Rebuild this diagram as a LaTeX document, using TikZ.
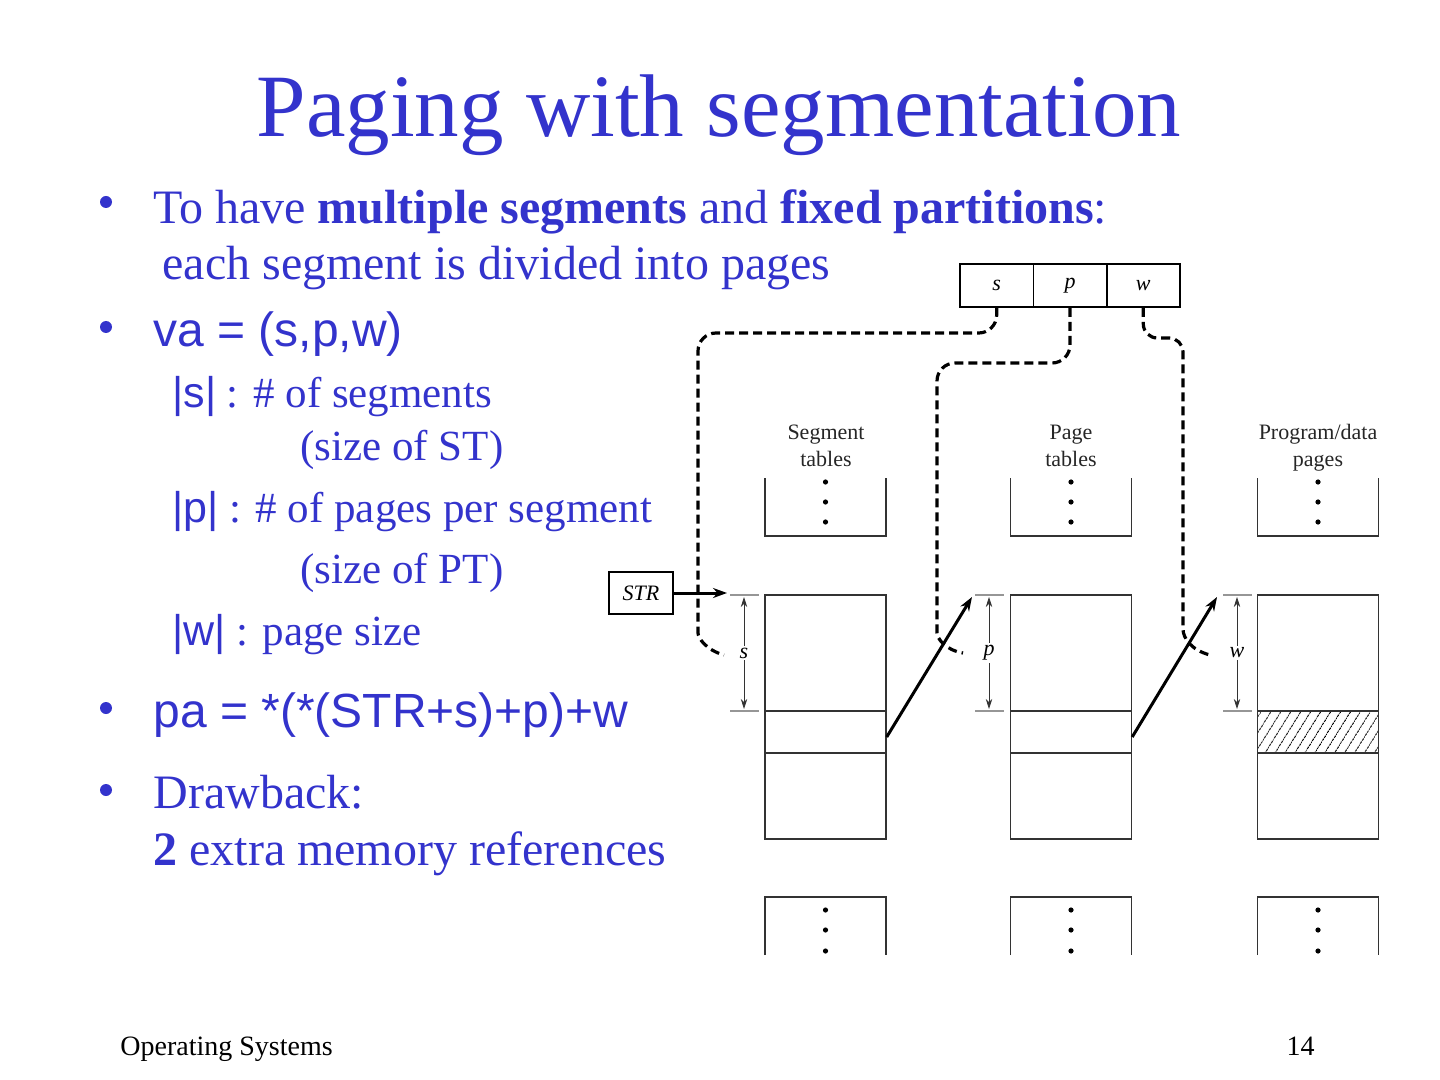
\documentclass[tikz,border=0pt]{standalone}
\usepackage{fontspec}
\setmainfont{Liberation Serif}
\setsansfont{Liberation Sans}
\usetikzlibrary{arrows.meta,positioning,patterns.meta}
\definecolor{cSlide}{RGB}{51,51,204}
\definecolor{cTick}{RGB}{150,150,150}

\begin{document}
\begin{tikzpicture}[
    x=0.5pt, y=-0.5pt, >=Stealth,
    txt/.style={anchor=base west,inner sep=0pt,text=cSlide,font=\fontsize{24}{28}\selectfont},
    subtxt/.style={txt,font=\fontsize{21.5}{25}\selectfont},
    bul/.style={circle,fill=cSlide,inner sep=0pt,minimum size=6pt},
    field/.style={draw,line width=0.8pt,minimum width=36.7pt,minimum height=21.5pt,inner sep=0pt,font=\fontsize{11}{13}\selectfont\itshape},
    blk/.style={draw=black!80,line width=0.7pt,minimum width=60.5pt,inner sep=0pt},
    hdr/.style={align=center,font=\fontsize{11}{13.5}\selectfont,text=black!85},
    addr/.style={line width=1.6pt,dash pattern=on 4.5pt off 2.5pt,rounded corners=9pt},
    tickln/.style={draw=cTick,line width=0.6pt},
    dimln/.style={draw=black!80,line width=0.4pt,{Stealth[length=5pt,width=3.2pt]}-{Stealth[length=5pt,width=3.2pt]}},
    ptr/.style={line width=1.5pt,-{Stealth[length=7pt,width=5pt]}}
  ]
  \useasboundingbox (0,0) rectangle (1440,1080);

  % title and bullets
  \node[anchor=base,inner sep=0pt,text=cSlide,font=\fontsize{44.5}{50}\selectfont] (ttl) at (719,137) {Paging with segmentation};
  \node[bul] (b1) at (106,202) {};
  \node[txt] (t1) at (153,224) {To have \textbf{multiple segments} and \textbf{fixed partitions}:};
  \node[txt] (t2) at (162,280) {each segment is divided into pages};
  \node[bul] (b2) at (106,327) {};
  \node[txt] (t3) at (153,347) {\sffamily va = (s,p,w)};
  \node[subtxt] (t4) at (172,408) {\textsf{|s|} : \# of segments};
  \node[subtxt] (t5) at (300,460) {(size of ST)};
  \node[subtxt] (t6) at (172,523) {\textsf{|p|} : \# of pages per segment};
  \node[subtxt] (t7) at (300,583) {(size of PT)};
  \node[subtxt] (t8) at (172,645) {\textsf{|w|} : page size};
  \node[bul] (b3) at (106,708) {};
  \node[txt] (t9) at (153,727) {\sffamily pa = *(*(STR+s)+p)+w};
  \node[bul] (b4) at (106,790) {};
  \node[txt] (t10) at (153,808) {Drawback:};
  \node[txt] (t11) at (153,865) {\textbf{2} extra memory references};

  % virtual address (s,p,w)
  \node[field] (sf) at (996.7,285.5) {s};
  \node[field] (pf) at (1070,285.5) {p};
  \node[field] (wf) at (1143.3,285.5) {w};

  \node[hdr] (h1) at (826,446) {Segment\\tables};
  \node[hdr] (h2) at (1071,446) {Page\\tables};
  \node[hdr] (h3) at (1318,448) {Program/data\\pages};

  % the three tables
  \foreach \col/\x in {seg/825.5,pg/1071,mem/1318}{
    \draw[blk] (\x-60.5,478) -- (\x-60.5,536) -- (\x+60.5,536) -- (\x+60.5,478);
    \draw[blk] (\x-60.5,955) -- (\x-60.5,897) -- (\x+60.5,897) -- (\x+60.5,955);
    \foreach \y in {482,502,522,910,930,951} \fill (\x,\y) circle (1.3pt);
    \node[blk,minimum height=58pt] (\col-a) at (\x,653) {};
    \node[blk,minimum height=21pt] (\col-b) at (\x,732) {};
    \node[blk,minimum height=43pt] (\col-c) at (\x,796) {};
  }
  \node[blk,minimum height=21pt,pattern={Lines[angle=58,distance=4pt,line width=0.5pt]}] (hatch) at (mem-b) {};

  % offsets s, p, w
  \foreach \d/\lab in {744/s,989/p,1237/w}{
    \coordinate (\lab-t) at (\d,597);
    \coordinate (\lab-b) at (\d,709);
    \draw[tickln] (\d-14,595) -- (\d+15,595) (\d-14,711) -- (\d+15,711);
    \draw[dimln] (\lab-t) -- (\lab-b) node[midway,fill=white,inner sep=1pt,font=\fontsize{11}{13}\selectfont\itshape] {\lab};
  }

  \node[draw,line width=0.8pt,minimum width=32pt,minimum height=21pt,inner sep=0pt,font=\fontsize{11}{13}\selectfont\itshape] (str) at (641,593) {STR};
  \coordinate (s-in) at (727,593);
  \coordinate (p-in) at (972,597);
  \coordinate (w-in) at (1217,597);
  \draw[ptr] (str) -- (s-in);
  \draw[ptr] ([yshift=-2.5pt]seg-b.east) -- (p-in);
  \draw[ptr] ([yshift=-2.5pt]pg-b.east) -- (w-in);

  % dashed links from the address fields
  \coordinate (s-end) at (724,655);
  \coordinate (p-end) at (963,653);
  \coordinate (w-end) at (1210,655);
  \draw[addr] (sf.south) |- (698,333) -- (698,615) .. controls (698,638) and (706,650) .. (s-end);
  \draw[addr] (pf.south) |- (937,363) -- (937,615) .. controls (937,638) and (945,650) .. (p-end);
  \draw[addr,rounded corners=7pt] (wf.south) |- (1183,338) -- (1183,615) .. controls (1183,638) and (1191,650) .. (w-end);

  % footer
  \node[anchor=base west,inner sep=0pt,font=\fontsize{14}{16}\selectfont] (ftl) at (120,1055) {Operating Systems};
  \node[anchor=base east,inner sep=0pt,font=\fontsize{14}{16}\selectfont] (fpg) at (1315,1055) {14};
\end{tikzpicture}
\end{document}
